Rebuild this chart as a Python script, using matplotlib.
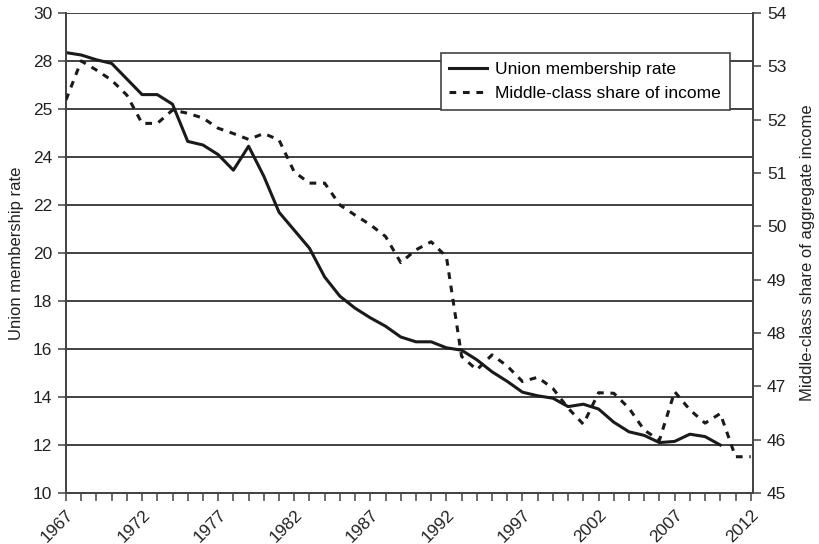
import numpy as np
import matplotlib
matplotlib.use("Agg")
import matplotlib.pyplot as plt
from matplotlib.ticker import MultipleLocator

plt.rcParams['font.family'] = ['Liberation Sans', 'DejaVu Sans']

# Union membership rate, 1967-2010 (left axis)
union_years = list(range(1967, 2011))
union_rate = [28.35, 28.25, 28.05, 27.9, 27.25, 26.6, 26.6, 26.2, 24.65, 24.5,
              24.1, 23.45, 24.45, 23.2, 21.7, 20.95, 20.2, 19.0, 18.2, 17.7,
              17.3, 16.95, 16.5, 16.3, 16.3, 16.05, 15.95, 15.55, 15.05, 14.65,
              14.2, 14.05, 13.95, 13.6, 13.7, 13.5, 12.95, 12.55, 12.4, 12.1,
              12.15, 12.45, 12.35, 12.0]

# Middle-class share of aggregate income, 1967-2012 (right axis)
income_years = list(range(1967, 2013))
income_share = [52.37, 53.1, 52.93, 52.74, 52.46, 51.93, 51.93, 52.18, 52.12, 52.03,
                51.84, 51.74, 51.63, 51.74, 51.62, 51.02, 50.81, 50.81, 50.4, 50.21,
                50.03, 49.81, 49.32, 49.56, 49.71, 49.43, 47.56, 47.31, 47.59, 47.38,
                47.09, 47.17, 46.96, 46.59, 46.29, 46.88, 46.87, 46.59, 46.18, 45.99,
                46.9, 46.56, 46.31, 46.49, 45.68, 45.68]

left_ticks = [10, 12, 14, 16, 18, 20, 22, 24, 26, 28, 30]
left_labels = ['10', '12', '14', '16', '18', '20', '22', '24', '25', '28', '30']
right_ticks = list(range(45, 55))
year_labels = list(range(1967, 2013, 5))

fig = plt.figure(figsize=(8.2, 5.44), dpi=100)
ax = fig.add_axes([66/820, 1 - 493/544, 687/820, 480/544])
ax2 = ax.twinx()

dark = '#222222'
ax.set_axisbelow(True)
for t in left_ticks[1:]:
    ax.axhline(t, color='#333333', lw=1.3, zorder=0)

l1, = ax.plot(union_years, union_rate, color='#1a1a1a', lw=2.2,
              label='Union membership rate', zorder=3)
l2, = ax2.plot(income_years, income_share, color='#1a1a1a', lw=2.2,
               ls=(0, (2.2, 2.2)), label='Middle-class share of income', zorder=3)

ax.set_xlim(1967, 2012.15)
ax.set_ylim(10, 30)
ax2.set_ylim(45, 54)

ax.set_yticks(left_ticks)
ax.set_yticklabels(left_labels)
ax2.set_yticks(right_ticks)
ax.set_xticks(year_labels)
ax.set_xticklabels([str(y) for y in year_labels], rotation=45, ha='right',
                   rotation_mode='anchor')
ax.xaxis.set_minor_locator(MultipleLocator(1))

for a in (ax, ax2):
    for s in a.spines.values():
        s.set_color('#444444')
        s.set_linewidth(1.3)
    a.spines['top'].set_visible(False)
    a.tick_params(axis='both', which='both', direction='out', length=6,
                  width=1.1, color='#444444', labelsize=12.5, labelcolor=dark)
ax.tick_params(axis='x', which='major', pad=4)
ax.tick_params(axis='y', pad=4)
ax2.tick_params(axis='y', pad=4)

ax.set_ylabel('Union membership rate', fontsize=12, color=dark, labelpad=6)
ax2.set_ylabel('Middle-class share of aggregate income', fontsize=12,
               color=dark, labelpad=10)

leg = ax.legend(handles=[l1, l2], loc='upper right', bbox_to_anchor=(0.966, 0.917),
                fontsize=12.5, frameon=True, fancybox=False, framealpha=1,
                edgecolor='#444444', handlelength=2.2, borderpad=0.5,
                labelspacing=0.55, handletextpad=0.45, borderaxespad=0)
leg.get_frame().set_linewidth(1.2)
leg.set_zorder(5)

fig.savefig('out.png', dpi=100)
